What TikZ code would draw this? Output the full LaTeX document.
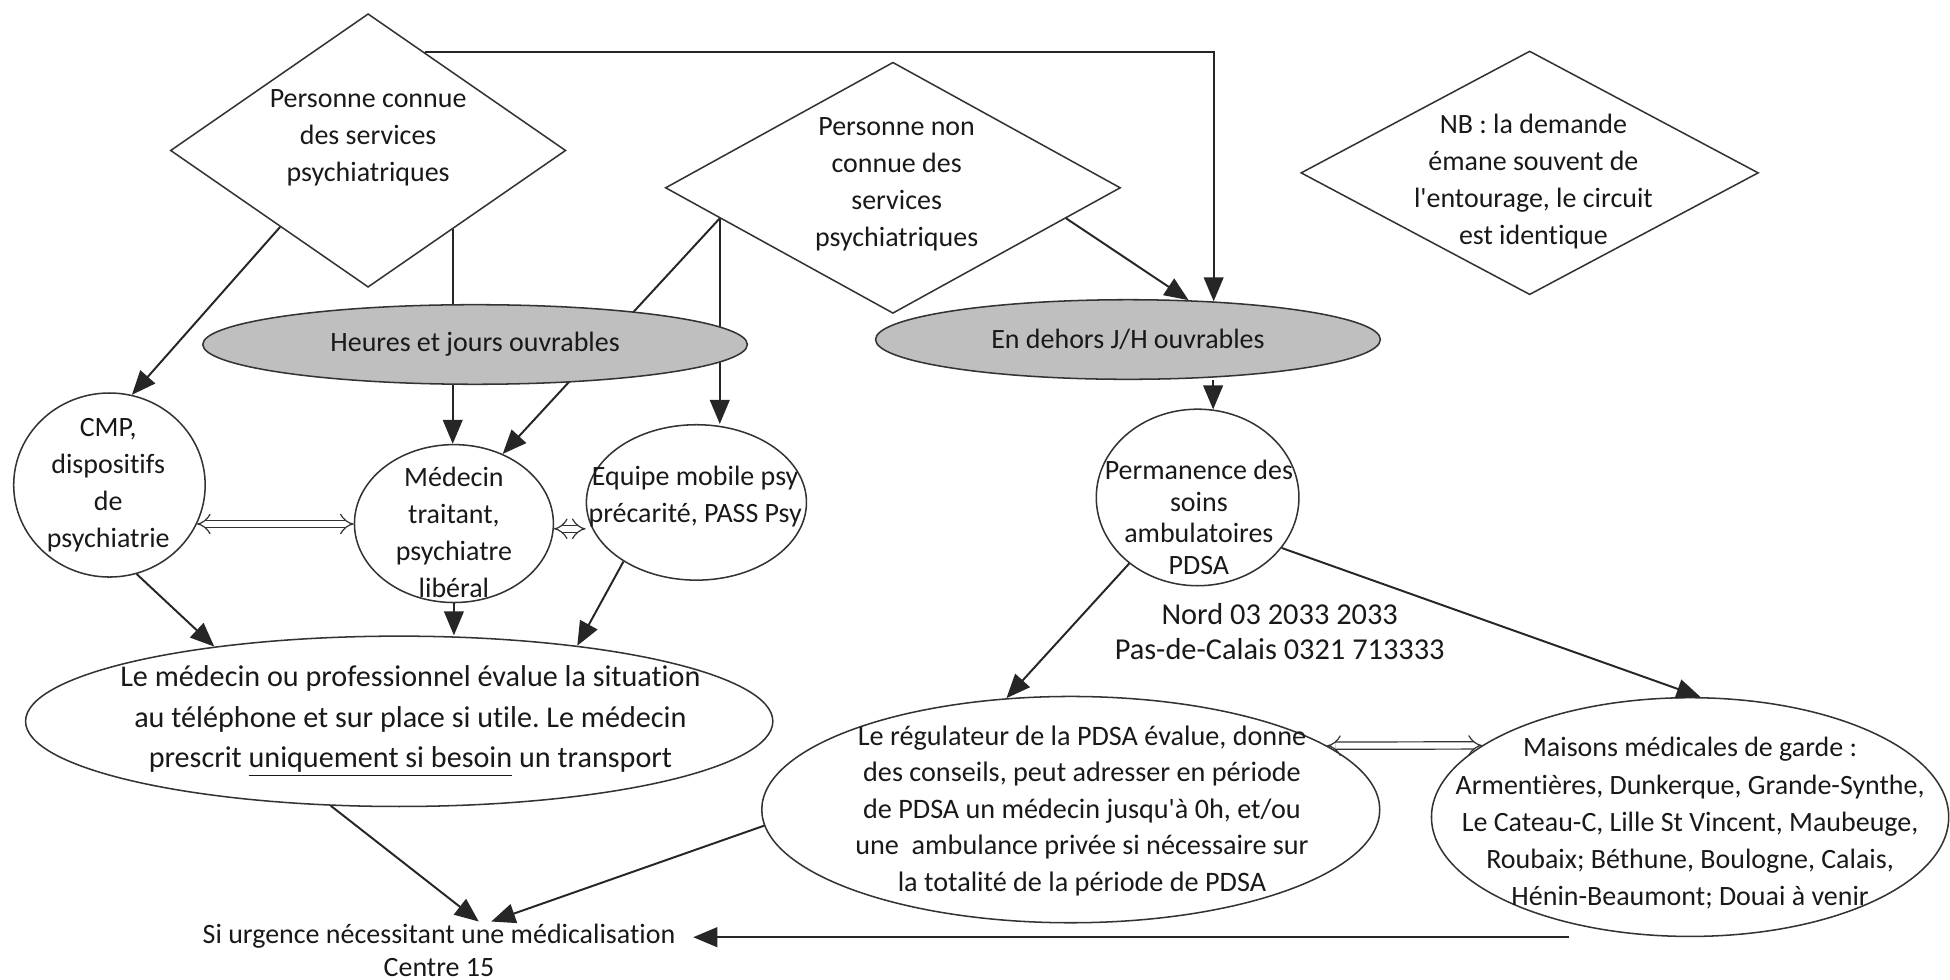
\documentclass[tikz,border=0pt]{standalone}
\usepackage{fontspec}
\setmainfont{Carlito}[Ligatures=NoCommon]
\frenchspacing
\usetikzlibrary{shapes.geometric,arrows.meta,backgrounds}

\tikzset{>={Triangle[length=11pt,width=9pt]}}
\tikzset{
  losange/.style={diamond,draw=black!80,line width=0.7pt,inner sep=0pt},
  bulle/.style={ellipse,draw=black!80,line width=0.7pt,inner sep=0pt},
  grise/.style={bulle,fill=black!25,text=black!90,font=\fontsize{12.8}{17}\selectfont},
  texte/.style={align=center,inner sep=0pt,text=black!90,font=\fontsize{12.8}{17}\selectfont},
  fleche/.style={->,line width=0.9pt,draw=black!85},
  allerretour/.style={{Implies[length=7pt]}-{Implies[length=7pt]},double,double distance=2.8pt,line width=0.55pt,draw=black!80}
}

\begin{document}
\begin{tikzpicture}[x=0.02cm,y=-0.02cm]
  \useasboundingbox (0,0) rectangle (1568,788);

  \node[losange,minimum width=6.36cm,minimum height=4.4cm] (connue) at (296,121) {};
  \node[texte] (tconnue) at (296,111) {Personne connue\\des services\\psychiatriques};
  \node[losange,minimum width=7.32cm,minimum height=4.04cm] (nonconnue) at (718,151) {};
  \node[texte] (tnonconnue) at (721,148) {Personne non\\connue des\\services\\psychiatriques};
  \node[losange,minimum width=7.36cm,minimum height=3.92cm] (nb) at (1230,139) {};
  \node[texte] (tnb) at (1233,146) {NB : la demande\\émane souvent de\\l\textquotesingle entourage, le circuit\\est identique};

  \node[grise,minimum width=8.76cm,minimum height=1.28cm] (heures) at (382,277) {Heures et jours ouvrables};
  \node[grise,minimum width=8.12cm,minimum height=1.28cm] (dehors) at (907,273) {En dehors J/H ouvrables};

  \node[bulle,minimum width=3.08cm,minimum height=2.96cm] (cmp) at (88,390) {};
  \node[texte] (tcmp) at (87,390) {CMP,\\dispositifs\\de\\psychiatrie};
  \node[bulle,minimum width=3.2cm,minimum height=2.54cm] (med) at (365,421) {};
  \node[texte] (tmed) at (365,428) {Médecin\\traitant,\\psychiatre\\libéral};
  \node[bulle,minimum width=3.54cm,minimum height=2.5cm] (equipe) at (560,404) {};
  \node[texte] (tequipe) at (559,399) {Equipe mobile psy\\précarité, PASS Psy};
  \node[bulle,minimum width=3.26cm,minimum height=2.84cm] (perm) at (963,400) {};
  \node[texte,font=\fontsize{12.8}{14.5}\selectfont] (tperm) at (964,416) {Permanence des\\soins\\ambulatoires\\PDSA};
  \node[texte,font=\fontsize{13.9}{16}\selectfont] (nord) at (1029,508) {Nord 03 2033 2033\\Pas-de-Calais 0321 713333};

  \node[bulle,minimum width=12.02cm,minimum height=2.74cm] (eval) at (321,580) {};
  \node[texte,font=\fontsize{13.8}{18.5}\selectfont] (teval) at (330,580) {Le médecin ou professionnel évalue la situation\\au téléphone et sur place si utile. Le médecin\\prescrit \underline{uniquement si besoin} un transport};
  \node[bulle,minimum width=9.94cm,minimum height=3.64cm] (reg) at (861,651) {};
  \node[texte,font=\fontsize{12.9}{16.7}\selectfont] (treg) at (870,652) {Le régulateur de la PDSA évalue, donne\\des conseils, peut adresser en période\\de PDSA un médecin jusqu\textquotesingle à 0h, et/ou\\une\ \ ambulance privée si nécessaire sur\\la totalité de la période de PDSA};
  \node[bulle,minimum width=8.32cm,minimum height=3.84cm] (mais) at (1359,657) {};
  \node[texte] (tmais) at (1359,662) {Maisons médicales de garde :\\Armentières, Dunkerque, Grande-Synthe,\\Le Cateau-C, Lille St Vincent, Maubeuge,\\Roubaix; Béthune, Boulogne, Calais,\\Hénin-Beaumont; Douai à venir};

  \node[texte,inner xsep=8pt] (urg) at (353,753) {Si urgence nécessitant une médicalisation};
  \node[texte] (c15) at (353,778) {Centre 15};
  \coordinate (cible1) at (385,741);
  \coordinate (cible2) at (395,741);

  \begin{pgfonlayer}{background}
    \draw[fleche] (connue.-43) -- (connue.-43 |- med.north);
    \draw[fleche] (nonconnue.190) -- (med.55);
    \draw[fleche] (nonconnue.190) -- (nonconnue.190 |- equipe.north);
  \end{pgfonlayer}
  \draw[fleche] (connue.221) -- (cmp.76);
  \draw[fleche] (connue.60) -| (dehors.24);
  \draw[fleche] (nonconnue.-10) -- (dehors.33);
  \draw[fleche] (perm.80 |- dehors.south) -- (perm.80);
  \draw[allerretour] (cmp.-24) -- (cmp.-24 -| med.west);
  \draw[allerretour] (med.-3) -- (med.-3 -| equipe.west);
  \draw[fleche] (cmp.-73) -- (eval.158);
  \draw[fleche] (med.south) -- (med.south |- eval.north);
  \draw[fleche] (equipe.219) -- (eval.23);
  \draw[fleche] (perm.224) -- (reg.120);
  \draw[fleche] (perm.-31) -- (mais.85);
  \draw[allerretour] (reg.14) -- (mais.161.5);
  \draw[fleche] (eval.231) -- (cible1);
  \draw[fleche] (reg.183) -- (cible2);
  \draw[fleche] ([xshift=-1.94cm]mais.south) -- (mais.south -| urg.east);
\end{tikzpicture}
\end{document}
